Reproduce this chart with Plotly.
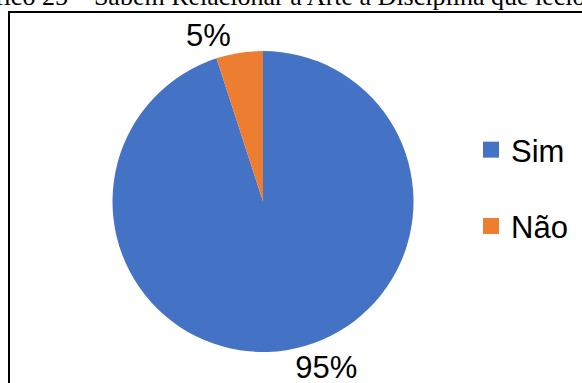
import plotly.graph_objects as go

# data
labels = ["Sim", "Não"]
values = [95, 5]
colors = ["#4472C4", "#ED7D31"]
title_text = "Gráfico 25 – Sabem Relacionar a Arte à Disciplina que leciona"

W, H = 582, 383

fig = go.Figure()

# pie: centre ~ (263, 201.5) px, radius ~150.5 px
cx, cy, r = 263, 201.5, 150.5
fig.add_trace(go.Pie(
    labels=labels,
    values=values,
    marker=dict(colors=colors),
    sort=False,
    direction="clockwise",
    rotation=0,
    textinfo="percent",
    textposition="outside",
    textfont=dict(family="Liberation Sans, Arial", size=31, color="black"),
    showlegend=False,
    domain=dict(x=[(cx - r) / W, (cx + r) / W],
                y=[(H - cy - r) / H, (H - cy + r) / H]),
))

# legend entries, one group each so the gap between them can be set
for lab, col in zip(labels, colors):
    fig.add_trace(go.Scatter(
        x=[None], y=[None], mode="markers", name=lab, legendgroup=lab,
        marker=dict(symbol="square", size=17, color=col),
    ))

fig.add_annotation(
    text=title_text, xref="paper", yref="paper",
    x=-46 / W, y=1 - 13 / H, xanchor="left", yanchor="bottom",
    showarrow=False,
    font=dict(family="Liberation Serif, Times New Roman", size=26, color="black"),
)

# frame round the chart
fig.add_shape(type="rect", xref="paper", yref="paper",
              x0=9 / W, x1=1.02, y0=-0.05, y1=1 - 12 / H,
              line=dict(color="black", width=2))

fig.update_layout(
    width=W, height=H,
    margin=dict(l=0, r=0, t=0, b=0, autoexpand=False),
    paper_bgcolor="white", plot_bgcolor="white",
    xaxis=dict(visible=False), yaxis=dict(visible=False),
    legend=dict(x=471 / W, y=1 - 123 / H, xanchor="left", yanchor="top",
                font=dict(family="Liberation Sans, Arial", size=31, color="black"),
                tracegroupgap=33, bgcolor="rgba(0,0,0,0)"),
)

# page body has an 8px default margin; drop it so the chart sits at 0,0
fig.write_html("out.html", config={"displayModeBar": False},
               post_script="document.body.style.margin='0';")
